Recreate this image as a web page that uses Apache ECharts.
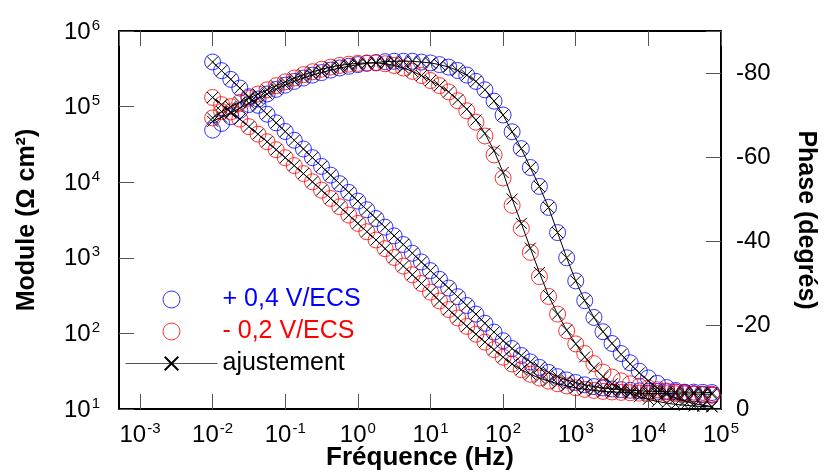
<!DOCTYPE html>
<html>
<head>
<meta charset="utf-8">
<script src="https://cdn.jsdelivr.net/npm/echarts@6/dist/echarts.min.js"></script>
<style>
  html, body { margin: 0; padding: 0; background: #fff; }
  #bode { width: 825px; height: 476px; }
</style>
</head>
<body>
<div id="bode"></div>
<script>
// fréquences de mesure (Hz)
const freq = [
  0.01, 0.0133, 0.0178, 0.0237, 0.0316, 0.0422, 0.0562, 0.075,
  0.1, 0.133, 0.178, 0.237, 0.316, 0.422, 0.562, 0.75,
  1, 1.33, 1.78, 2.37, 3.16, 4.22, 5.62, 7.5,
  10, 13.3, 17.8, 23.7, 31.6, 42.2, 56.2, 75,
  100, 133, 178, 237, 316, 422, 562, 750,
  1000, 1330, 1780, 2370, 3160, 4220, 5620, 7500,
  10000, 13300, 17800, 23700, 31600, 42200, 56200, 75000
]

// + 0,4 V/ECS : module (ohm cm2) et phase (degrés)
const modulePos = [
  389000, 299000, 229000, 176000, 135000, 104000, 79400, 61000,
  46800, 35900, 27500, 21100, 16200, 12400, 9550, 7330,
  5620, 4320, 3310, 2540, 1950, 1500, 1150, 881,
  676, 519, 398, 306, 234, 180, 136, 104,
  80, 63, 51, 42, 35.5, 30.5, 26.8, 24.2,
  22.4, 20.9, 19.8, 19.0, 18.4, 18.0, 17.7, 17.4,
  17.2, 17.1, 16.9, 16.8, 16.7, 16.7, 16.6, 16.5
]
const phasePos = [
  -66.4, -68.0, -69.6, -71.1, -72.5, -73.8, -75.0, -76.1,
  -77.1, -78.0, -78.8, -79.5, -80.1, -80.7, -81.2, -81.6,
  -82.0, -82.3, -82.5, -82.7, -82.8, -82.8, -82.8, -82.6,
  -82.4, -82.0, -81.4, -80.6, -79.5, -78.0, -76.0, -73.3,
  -70.0, -66.0, -62.0, -57.5, -53.0, -48.0, -42.0, -36.0,
  -30.5, -25.8, -21.8, -18.4, -15.6, -13.2, -11.0, -9.0,
  -7.4, -6.1, -5.1, -4.4, -3.9, -3.6, -3.4, -3.3
]
const fitPhasePos = [
  -68.5, -69.5, -70.5, -71.6, -72.8, -73.9, -75.0, -76.1,
  -77.1, -78.0, -78.8, -79.5, -80.1, -80.7, -81.2, -81.6,
  -82.0, -82.3, -82.5, -82.7, -82.8, -82.8, -82.8, -82.6,
  -82.4, -82.0, -81.4, -80.6, -79.5, -78.0, -76.0, -73.3,
  -70.0, -66.0, -62.0, -57.5, -53.0, -48.0, -42.0, -36.0,
  -30.5, -25.8, -21.8, -18.4, -15.6, -13.0, -10.7, -8.6,
  -6.7, -5.0, -3.6, -2.6, -1.9, -1.3, -0.9, -0.6
]

// - 0,2 V/ECS
const moduleNeg = [
  132000, 106000, 85100, 68400, 54300, 43200, 34300, 26900,
  21100, 16600, 13000, 10100, 7850, 6100, 4730, 3670,
  2850, 2210, 1720, 1320, 1010, 776, 596, 457,
  351, 269, 207, 160, 124, 97.7, 76.7, 61.0,
  48.4, 39.4, 33.1, 28.8, 25.7, 23.4, 21.6, 20.2,
  19.1, 18.2, 17.6, 17.1, 16.8, 16.6, 16.4, 16.2,
  16.1, 16.0, 16.0, 15.9, 15.8, 15.8, 15.7, 15.7
]
const phaseNeg = [
  -69.3, -70.8, -72.0, -73.0, -74.0, -75.0, -76.0, -77.0,
  -77.9, -78.8, -79.6, -80.3, -80.9, -81.4, -81.8, -82.1,
  -82.3, -82.4, -82.4, -82.2, -81.8, -81.2, -80.4, -79.4,
  -78.2, -77.0, -75.5, -73.4, -71.0, -68.3, -65.0, -60.5,
  -55.0, -48.5, -43.0, -37.3, -31.5, -26.8, -22.6, -18.6,
  -15.5, -13.2, -10.8, -8.8, -7.6, -6.7, -6.0, -5.4,
  -5.0, -4.6, -4.3, -4.0, -3.8, -3.6, -3.5, -3.4
]
const fitPhaseNeg = [
  -69.3, -70.8, -72.0, -73.0, -74.0, -75.0, -76.0, -77.0,
  -77.9, -78.8, -79.6, -80.3, -80.9, -81.4, -81.8, -82.1,
  -82.3, -82.4, -82.4, -82.2, -81.8, -81.2, -80.4, -79.4,
  -78.2, -77.0, -75.5, -73.6, -71.4, -68.8, -65.6, -61.5,
  -56.3, -50.0, -44.2, -38.3, -32.5, -27.0, -22.6, -18.8,
  -15.5, -12.4, -9.8, -7.7, -6.0, -4.7, -3.7, -2.9,
  -2.3, -1.8, -1.4, -1.1, -0.9, -0.7, -0.6, -0.5
]
// l'ajustement du module se confond avec les points mesurés
const fitModulePos = modulePos
const fitModuleNeg = moduleNeg

const seriesNames = ['+ 0,4 V/ECS', '- 0,2 V/ECS', 'ajustement']
const phaseLabels = ['0', '-20', '-40', '-60', '-80']

const BLUE = '#0000ff'
const RED = '#ff0000'
const FONT = 'Liberation Sans, Arial, sans-serif'
const CROSS = 'path://M0,0L10,10M10,0L0,10'

// module -> [f, |Z|], phase -> [f, -phi] (axe de droite orienté vers le haut)
function moduleData (arr) {
  return freq.map((f, i) => [f, arr[i]])
}
function phaseData (arr) {
  return freq.map((f, i) => [f, -arr[i]])
}

// étiquettes 10^n
function powLabel (v) {
  let e = Math.log10(v)
  let r = Math.round(e)
  if (Math.abs(e - r) > 1e-6) return ''
  return '{b|10}{s|' + r + '}'
}
const powRich = {
  b: {fontSize: 24, fontFamily: FONT, color: '#000', lineHeight: 26, verticalAlign: 'bottom'},
  s: {fontSize: 15, fontFamily: FONT, color: '#000', lineHeight: 26, verticalAlign: 'top', padding: [0, 0, 0, 1]}
}

function circles (name, color, data, yAxisIndex) {
  return {
    name: name,
    type: 'scatter',
    data: data,
    yAxisIndex: yAxisIndex,
    symbol: 'circle',
    symbolSize: 16,
    itemStyle: {color: 'rgba(0,0,0,0)', borderColor: color, borderWidth: 1},
    emphasis: {disabled: true},
    silent: true,
    z: 2
  }
}
function fit (data, yAxisIndex) {
  return {
    name: seriesNames[2],
    type: 'line',
    data: data,
    yAxisIndex: yAxisIndex,
    symbol: CROSS,
    symbolSize: 11,
    showSymbol: true,
    lineStyle: {color: '#000', width: 1},
    itemStyle: {color: '#000', borderColor: '#000', borderWidth: 1},
    emphasis: {disabled: true},
    silent: true,
    z: 3
  }
}

const tickStyle = {inside: true, length: 15, lineStyle: {color: '#555', width: 1}}
const frame = {show: true, onZero: false, lineStyle: {color: '#000', width: 2}}
const titleStyle = {fontSize: 25, fontWeight: 'bold', fontFamily: FONT, color: '#000'}

let option = {
  animation: false,
  backgroundColor: '#fff',
  grid: {left: 119, right: 104, top: 31, bottom: 67, outerBoundsMode: 'none', containLabel: false},
  legend: {
    orient: 'vertical',
    left: 120,
    top: 281,
    itemWidth: 92,
    itemHeight: 17,
    itemGap: 5,
    selectedMode: false,
    textStyle: {fontSize: 25, fontFamily: FONT, lineHeight: 27},
    data: [
      {name: seriesNames[0], icon: 'circle', itemStyle: {color: 'rgba(0,0,0,0)', borderColor: BLUE, borderWidth: 1}, textStyle: {color: BLUE}},
      {name: seriesNames[1], icon: 'circle', itemStyle: {color: 'rgba(0,0,0,0)', borderColor: RED, borderWidth: 1}, textStyle: {color: RED}},
      {name: seriesNames[2], lineStyle: {color: '#555', width: 1}, textStyle: {color: '#000'}}
    ]
  },
  xAxis: [
    {
      type: 'log',
      logBase: 10,
      min: 0.000514,
      max: 100000,
      position: 'bottom',
      name: 'Fréquence (Hz)',
      nameLocation: 'middle',
      nameGap: 36,
      nameMoveOverlap: false,
      nameTextStyle: Object.assign({}, titleStyle, {fontSize: 26}),
      axisLine: frame,
      axisTick: tickStyle,
      axisLabel: {formatter: powLabel, rich: powRich, margin: 12, showMinLabel: false},
      splitLine: {show: false},
      minorTick: {show: false}
    },
    {
      type: 'log',
      logBase: 10,
      min: 0.000514,
      max: 100000,
      position: 'top',
      axisLine: frame,
      axisTick: tickStyle,
      axisLabel: {show: false},
      splitLine: {show: false}
    }
  ],
  yAxis: [
    {
      type: 'log',
      logBase: 10,
      min: 10,
      max: 1000000,
      position: 'left',
      name: 'Module (Ω cm²)',
      nameLocation: 'middle',
      nameRotate: 90,
      nameGap: 79,
      nameTextStyle: titleStyle,
      axisLine: frame,
      axisTick: tickStyle,
      axisLabel: {formatter: powLabel, rich: powRich, margin: 19},
      splitLine: {show: false}
    },
    {
      type: 'value',
      min: 0,
      max: 90,
      interval: 20,
      position: 'right',
      name: 'Phase (degrés)',
      nameLocation: 'middle',
      nameRotate: -90,
      nameGap: 72,
      nameTextStyle: titleStyle,
      axisLine: frame,
      axisTick: tickStyle,
      axisLabel: {
        fontSize: 24,
        fontFamily: FONT,
        color: '#000',
        margin: 15,
        formatter: function (v) {
          let k = Math.round(v / 20)
          return (v % 20 === 0 && phaseLabels[k] !== undefined) ? phaseLabels[k] : ''
        }
      },
      splitLine: {show: false}
    }
  ],
  series: [
    circles(seriesNames[0], BLUE, moduleData(modulePos), 0),
    circles(seriesNames[0], BLUE, phaseData(phasePos), 1),
    circles(seriesNames[1], RED, moduleData(moduleNeg), 0),
    circles(seriesNames[1], RED, phaseData(phaseNeg), 1),
    fit(moduleData(fitModulePos), 0),
    fit(phaseData(fitPhasePos), 1),
    fit(moduleData(fitModuleNeg), 0),
    fit(phaseData(fitPhaseNeg), 1)
  ]
}

let chart = echarts.init(document.getElementById('bode'), null, {renderer: 'canvas'})
chart.setOption(option)
</script>
</body>
</html>
